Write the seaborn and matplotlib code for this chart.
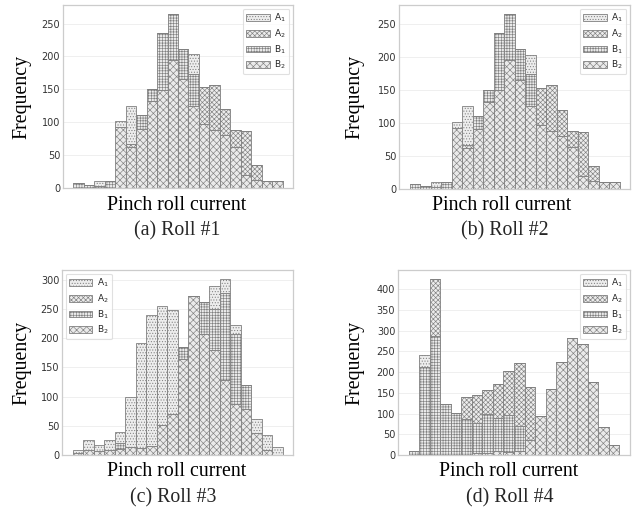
import numpy as np
import pandas as pd
import matplotlib
matplotlib.use("Agg")
import matplotlib.pyplot as plt
import matplotlib.colors as mcolors
from matplotlib.patches import Patch
import seaborn as sns

# ---------------- data (counts per bin, 20 bins) ----------------
classes = ["A1", "A2", "B1", "B2"]
class_labels = ["A$_1$", "A$_2$", "B$_1$", "B$_2$"]

roll1_A1 = [0, 0, 8, 0, 10, 58, 0, 0, 0, 0, 0, 29, 0, 0, 0, 0, 0, 0, 0, 0]
roll1_A2 = [0, 0, 0, 0, 0, 5, 0, 0, 0, 0, 0, 0, 56, 69, 40, 25, 66, 23, 0, 0]
roll1_B1 = [7, 5, 3, 10, 0, 0, 21, 18, 87, 70, 47, 49, 0, 0, 0, 0, 0, 0, 0, 0]
roll1_B2 = [0, 0, 0, 0, 92, 62, 90, 132, 149, 195, 165, 125, 97, 88, 80, 63, 20, 12, 10, 10]

roll2_A1 = [0, 0, 8, 0, 10, 58, 0, 0, 0, 0, 0, 29, 0, 0, 0, 0, 0, 0, 0, 0]
roll2_A2 = [0, 0, 0, 0, 0, 5, 0, 0, 0, 0, 0, 0, 56, 69, 40, 25, 66, 23, 0, 0]
roll2_B1 = [7, 5, 3, 10, 0, 0, 21, 18, 87, 70, 47, 49, 0, 0, 0, 0, 0, 0, 0, 0]
roll2_B2 = [0, 0, 0, 0, 92, 62, 90, 132, 149, 195, 165, 125, 97, 88, 80, 63, 20, 12, 10, 10]

roll3_A1 = [5, 18, 10, 18, 20, 85, 180, 225, 204, 178, 0, 0, 0, 40, 24, 14, 0, 24, 26, 13]
roll3_A2 = [0, 0, 0, 0, 0, 0, 0, 0, 0, 0, 0, 0, 0, 0, 0, 0, 0, 0, 0, 0]
roll3_B1 = [0, 0, 0, 0, 10, 0, 0, 0, 0, 0, 20, 0, 54, 70, 150, 121, 42, 0, 0, 0]
roll3_B2 = [4, 8, 7, 8, 10, 14, 12, 15, 52, 70, 165, 273, 208, 180, 128, 87, 78, 38, 9, 0]

roll4_A1 = [0, 29, 0, 0, 0, 0, 0, 0, 0, 0, 0, 0, 0, 0, 0, 0, 0, 0, 0, 0]
roll4_A2 = [0, 0, 138, 0, 0, 52, 67, 56, 82, 107, 153, 129, 0, 0, 0, 0, 0, 0, 0, 0]
roll4_B1 = [10, 212, 287, 122, 102, 88, 73, 95, 80, 88, 60, 0, 0, 0, 0, 0, 0, 0, 0, 0]
roll4_B2 = [0, 0, 0, 0, 0, 0, 5, 5, 10, 8, 10, 35, 95, 158, 224, 283, 268, 175, 67, 23]

rolls = [
    ("(a) Roll #1", [roll1_A1, roll1_A2, roll1_B1, roll1_B2]),
    ("(b) Roll #2", [roll2_A1, roll2_A2, roll2_B1, roll2_B2]),
    ("(c) Roll #3", [roll3_A1, roll3_A2, roll3_B1, roll3_B2]),
    ("(d) Roll #4", [roll4_A1, roll4_A2, roll4_B1, roll4_B2]),
]

# ---------------- style ----------------
sns.set_theme(style="whitegrid")
plt.rcParams["font.family"] = ["DejaVu Sans"]
plt.rcParams["hatch.linewidth"] = 0.45

fills = {"A1": "#ededed", "A2": "#ececec", "B1": "#ebebeb", "B2": "#eaeaea"}
hatches = {"A1": "......", "A2": "xxxxxxx", "B1": "++++++", "B2": "xxxxx"}
edge = "#808080"
serif = ["Liberation Serif", "DejaVu Serif"]

fig = plt.figure(figsize=(6.38, 5.14), dpi=100)
W, H = 638, 514
# axes boxes in pixels: left, top, right, bottom
boxes = [(63, 5, 293, 188), (399, 5, 630, 189), (62, 270, 293, 455), (398, 270, 630, 455)]
xlab_pos = [(177, 205), (502, 205), (177, 472), (509, 472)]
cap_pos = [(177, 231), (505, 231), (173, 498), (510, 498)]
legend_loc = ["upper right", "upper right", "upper left", "upper right"]
ylab_x = [22, 355, 22, 355]

for k, (caption, series) in enumerate(rolls):
    l, t, r, b = boxes[k]
    ax = fig.add_axes([l / W, 1 - b / H, (r - l) / W, (b - t) / H])
    rows = []
    for cls, vals in zip(classes, series):
        for i, v in enumerate(vals):
            rows.append({"bin": i + 0.5, "count": v, "cls": cls})
    df = pd.DataFrame(rows)
    sns.histplot(data=df, x="bin", weights="count", hue="cls", hue_order=classes,
                 multiple="stack", bins=20, binrange=(0, 20), palette=fills,
                 alpha=1, edgecolor=edge, linewidth=0.6, legend=False, ax=ax)
    rev = {mcolors.to_hex(v): c for c, v in fills.items()}
    for p in ax.patches:
        c = rev.get(mcolors.to_hex(p.get_facecolor(), keep_alpha=False))
        if c is not None:
            p.set_hatch(hatches[c])
            p.set_edgecolor(edge)

    ax.set_xticks([])
    ax.grid(axis="y", color="0.93", linewidth=0.6)
    ax.grid(axis="x", visible=False)
    for s in ax.spines.values():
        s.set_color("0.8")
        s.set_linewidth(0.9)
    ax.tick_params(axis="y", labelsize=7, colors="0.2", pad=2, length=0)

    ax.set_ylabel("Frequency", family=serif, fontsize=14.3, color="black")
    ax.yaxis.label.set_verticalalignment("center")
    ax.yaxis.set_label_coords((ylab_x[k] - l) / (r - l), 0.5)
    ax.set_xlabel("Pinch roll current", family=serif, fontsize=14.3, color="black")
    ax.xaxis.label.set_verticalalignment("center")
    ax.xaxis.set_label_coords((xlab_pos[k][0] - l) / (r - l), (b - xlab_pos[k][1]) / (b - t))
    fig.text(cap_pos[k][0] / W, 1 - cap_pos[k][1] / H, caption, family=serif,
             fontsize=14.3, ha="center", va="center")

    handles = [Patch(facecolor=fills[c], edgecolor=edge, hatch=hatches[c], linewidth=0.6)
               for c in classes]
    leg = ax.legend(handles, class_labels, loc=legend_loc[k], fontsize=6.5,
                    handlelength=2.6, handleheight=0.75, labelspacing=0.35,
                    handletextpad=0.5, frameon=True, borderpad=0.35,
                    borderaxespad=0.4)
    leg.get_frame().set_edgecolor("0.85")
    leg.get_frame().set_linewidth(0.8)

fig.savefig("out.png", dpi=100)
